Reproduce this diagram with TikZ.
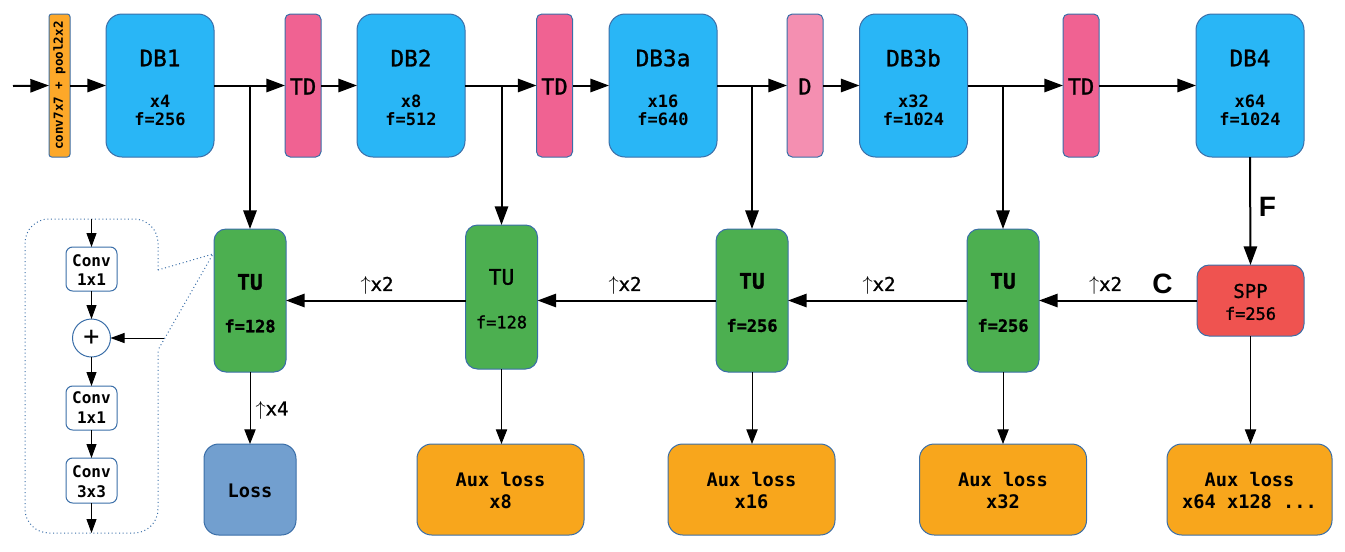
\documentclass[tikz,border=0pt]{standalone}
\usepackage{fontspec}
\setmainfont{DejaVu Sans Mono}
\newfontfamily\arialfont{Liberation Sans}
\newfontfamily\medfont{DejaVu Sans Mono}[FakeBold=1.2]
\usetikzlibrary{arrows.meta}
\definecolor{bordc}{HTML}{3A6EA8}
\definecolor{dbc}{HTML}{29B6F6}
\definecolor{tdc}{HTML}{F06292}
\definecolor{dc}{HTML}{F48FB1}
\definecolor{tuc}{HTML}{4CAF50}
\definecolor{sppc}{HTML}{EF5350}
\definecolor{lossc}{HTML}{729FCF}
\definecolor{auxc}{HTML}{F8A61C}
\definecolor{convc}{HTML}{FDA829}
\newcommand\fDBT{\fontsize{17}{20}\selectfont\medfont}
\newcommand\fDBS{\fontsize{12.75}{15}\selectfont\bfseries}
\newcommand\fTD{\fontsize{16.5}{19}\selectfont\medfont}
\newcommand\fTU{\fontsize{16}{19}\selectfont\medfont}
\newcommand\fTUS{\fontsize{12.75}{15}\selectfont\medfont}
\newcommand\fSPP{\fontsize{14.25}{17}\selectfont\medfont}
\newcommand\fAUX{\fontsize{14}{17}\selectfont\bfseries}
\newcommand\fCONV{\fontsize{9.4}{11}\selectfont\bfseries}
\newcommand\fIN{\fontsize{12}{14}\selectfont\bfseries}
\newcommand\fUP{\fontsize{14.25}{17}\selectfont\medfont}
\newcommand\fBIG{\fontsize{21}{24}\selectfont\arialfont\bfseries}
\newcommand\upar{\raisebox{0.02em}{\resizebox{!}{0.74em}{$\uparrow$}}}
\begin{document}
\begin{tikzpicture}[x=0.75pt,y=-0.75pt,
  base/.style={draw=bordc,line width=0.75pt,inner sep=0pt,outer sep=0pt},
  convbox/.style={base,fill=convc,minimum width=15.75pt,minimum height=107.25pt,rounded corners=2pt},
  dbbox/.style={base,fill=dbc,minimum width=81pt,minimum height=107.25pt,rounded corners=12pt},
  tdbox/.style={base,fill=tdc,minimum width=27pt,minimum height=107.25pt,rounded corners=4pt},
  dbox/.style={tdbox,fill=dc},
  tubox/.style={base,fill=tuc,minimum width=54pt,minimum height=107.25pt,rounded corners=9pt},
  sppbox/.style={base,fill=sppc,minimum width=80.25pt,minimum height=53.25pt,rounded corners=9pt},
  lossbox/.style={base,fill=lossc,minimum width=69pt,minimum height=68.25pt,rounded corners=11pt},
  auxbox/.style={base,fill=auxc,minimum width=125.25pt,minimum height=68.25pt,rounded corners=11pt},
  inbox/.style={base,fill=white,minimum width=38.25pt,minimum height=33pt,rounded corners=5pt},
  plusnode/.style={base,fill=white,circle,minimum size=28.5pt},
  txt/.style={inner sep=0pt,outer sep=0pt},
  arr/.style={line width=1.5pt,-{Triangle[length=14pt,width=10pt]}},
  tarr/.style={line width=0.75pt,-{Triangle[length=11pt,width=8.5pt]}},
  iarr/.style={line width=0.75pt,-{Triangle[length=10.5pt,width=7.5pt]}},
  inset/.style={draw=bordc,line width=0.75pt,dotted}
]
\useasboundingbox (0,0) rectangle (1345,551);

% top row
\node[convbox] (conv) at (59.5,85.5) {};
\node[txt,rotate=90,font=\fCONV] (convt) at (59.5,85.5) {conv7x7 + pool2x2};

\node[dbbox] (db1) at (160,85.5) {};
\node[txt,font=\fDBT] (db1n) at (160,58) {DB1};
\node[txt,font=\fDBS] (db1x) at (160,101) {x4};
\node[txt,font=\fDBS] (db1f) at (160,119.5) {f=256};

\node[tdbox] (td1) at (303,85.5) {};
\node[txt,font=\fTD] (td1t) at (303,86.5) {TD};

\node[dbbox] (db2) at (411,85.5) {};
\node[txt,font=\fDBT] (db2n) at (411,58) {DB2};
\node[txt,font=\fDBS] (db2x) at (411,101) {x8};
\node[txt,font=\fDBS] (db2f) at (411,119.5) {f=512};

\node[tdbox] (td2) at (554.5,85.5) {};
\node[txt,font=\fTD] (td2t) at (554.5,86.5) {TD};

\node[dbbox] (db3a) at (663,85.5) {};
\node[txt,font=\fDBT] (db3an) at (663,58) {DB3a};
\node[txt,font=\fDBS] (db3ax) at (663,101) {x16};
\node[txt,font=\fDBS] (db3af) at (663,119.5) {f=640};

\node[dbox] (d1) at (805,85.5) {};
\node[txt,font=\fTD] (d1t) at (805,86.5) {D};

\node[dbbox] (db3b) at (913.5,85.5) {};
\node[txt,font=\fDBT] (db3bn) at (913.5,58) {DB3b};
\node[txt,font=\fDBS] (db3bx) at (913.5,101) {x32};
\node[txt,font=\fDBS] (db3bf) at (913.5,119.5) {f=1024};

\node[tdbox] (td3) at (1081,85.5) {};
\node[txt,font=\fTD] (td3t) at (1081,86.5) {TD};

\node[dbbox] (db4) at (1250,85.5) {};
\node[txt,font=\fDBT] (db4n) at (1250,58) {DB4};
\node[txt,font=\fDBS] (db4x) at (1250,101) {x64};
\node[txt,font=\fDBS] (db4f) at (1250,119.5) {f=1024};

% middle row
\node[tubox] (tu1) at (250,300.5) {};
\node[txt,font=\fTU\bfseries] (tu1t) at (250,282) {TU};
\node[txt,font=\fTUS\bfseries] (tu1f) at (250,326) {f=128};

\node[tubox,minimum height=108pt] (tu2) at (501.5,297) {};
\node[txt,font=\fTU] (tu2t) at (501.5,277) {TU};
\node[txt,font=\fTUS] (tu2f) at (501.5,322) {f=128};

\node[tubox] (tu3) at (752,300.5) {};
\node[txt,font=\fTU\bfseries] (tu3t) at (752,281) {TU};
\node[txt,font=\fTUS\bfseries] (tu3f) at (752,325.5) {f=256};

\node[tubox] (tu4) at (1003,300.5) {};
\node[txt,font=\fTU\bfseries] (tu4t) at (1003,281) {TU};
\node[txt,font=\fTUS\bfseries] (tu4f) at (1003,325.5) {f=256};

\node[sppbox] (spp) at (1250.5,300.5) {};
\node[txt,font=\fSPP] (sppt) at (1250.5,291) {SPP};
\node[txt,font=\fTUS] (sppf) at (1250.5,313.5) {f=256};

% bottom row
\node[lossbox] (loss) at (250,489.5) {};
\node[txt,font=\fAUX] (losst) at (250,491) {Loss};

\node[auxbox] (aux8) at (500.5,489.5) {};
\node[txt,font=\fAUX] (aux8a) at (500.5,480) {Aux loss};
\node[txt,font=\fAUX] (aux8b) at (500.5,502) {x8};

\node[auxbox] (aux16) at (751.5,489.5) {};
\node[txt,font=\fAUX] (aux16a) at (751.5,480) {Aux loss};
\node[txt,font=\fAUX] (aux16b) at (751.5,502) {x16};

\node[auxbox] (aux32) at (1003,489.5) {};
\node[txt,font=\fAUX] (aux32a) at (1003,480) {Aux loss};
\node[txt,font=\fAUX] (aux32b) at (1003,502) {x32};

\node[auxbox,minimum width=123.75pt] (aux64) at (1249.5,489.5) {};
\node[txt,font=\fAUX] (aux64a) at (1249.5,480) {Aux loss};
\node[txt,font=\fAUX] (aux64b) at (1249.5,502) {x64 x128 ...};

% top connectors
\coordinate (in) at (13,86);
\draw[arr] (in) -- (conv.west);
\draw[arr] (conv.east) -- (db1.west);
\draw[arr] (db1.east) -- (td1.west);
\draw[arr] (td1.east) -- (db2.west);
\draw[arr] (db2.east) -- (td2.west);
\draw[arr] (td2.east) -- (db3a.west);
\draw[arr] (db3a.east) -- (d1.west);
\draw[arr] (d1.east) -- (db3b.west);
\draw[arr] (db3b.east) -- (td3.west);
\draw[arr] (td3.east) -- (db4.west);

% branches
\draw[arr] (db1.east -| tu1.north) -- (tu1.north);
\draw[arr] (db2.east -| tu2.north) -- (tu2.north);
\draw[arr] (db3a.east -| tu3.north) -- (tu3.north);
\draw[arr] (db3b.east -| tu4.north) -- (tu4.north);
\draw[arr] (db4.south) -- (spp.north);
\node[txt,font=\fBIG] (flab) at (1267.5,207) {F};

% upsampling path
\draw[arr] (spp.west) -- (spp.west -| tu4.east);
\draw[arr] (tu4.west) -- (tu4.west -| tu3.east);
\draw[arr] (tu3.west) -- (tu3.west -| tu2.east);
\draw[arr] (tu3.west -| tu2.west) -- (tu3.west -| tu1.east);
\node[txt,font=\fUP] (up4) at (1105.5,285.5) {\upar x2};
\node[txt,font=\fBIG] (clab) at (1162.5,284) {C};
\node[txt,font=\fUP] (up3) at (879,285.5) {\upar x2};
\node[txt,font=\fUP] (up2) at (625,285.5) {\upar x2};
\node[txt,font=\fUP] (up1) at (377,285.5) {\upar x2};

% outputs
\draw[tarr] (tu1.south) -- (loss.north);
\node[txt,font=\fUP] (up0) at (272,410) {\upar x4};
\draw[tarr] (tu2.south) -- (tu2.south |- aux8.north);
\draw[tarr] (tu3.south) -- (tu3.south |- aux16.north);
\draw[tarr] (tu4.south) -- (tu4.south |- aux32.north);
\draw[tarr] (spp.south) -- (spp.south |- aux64.north);

% inset
\coordinate (cb1) at (158,270);
\coordinate (cb2) at (158,350);
\coordinate (ctip) at (213,254);
\draw[inset] (cb1) [rounded corners=18pt] -- (158,219) -- (25,219) -- (25,533) -- (158,533) -- (cb2);
\draw[inset] (cb1) -- (ctip) -- (cb2);

\node[inbox] (ic1) at (91.5,269) {};
\node[txt,font=\fIN] (ic1a) at (91.5,260.5) {Conv};
\node[txt,font=\fIN] (ic1b) at (91.5,280) {1x1};
\node[plusnode] (plus) at (91.5,338) {};
\node[txt,font=\fontsize{20}{22}\selectfont] (plust) at (91.5,338) {+};
\node[inbox] (ic2) at (91.5,408) {};
\node[txt,font=\fIN] (ic2a) at (91.5,398) {Conv};
\node[txt,font=\fIN] (ic2b) at (91.5,418) {1x1};
\node[inbox,minimum height=33.75pt] (ic3) at (91.5,480.5) {};
\node[txt,font=\fIN] (ic3a) at (91.5,472) {Conv};
\node[txt,font=\fIN] (ic3b) at (91.5,492) {3x3};

\coordinate (iin) at (91.5,219);
\coordinate (iside) at (164,338);
\coordinate (iout) at (91.5,533);
\draw[iarr] (iin) -- (ic1.north);
\draw[iarr] (ic1.south) -- (plus.north);
\draw[iarr] (iside) -- (plus.east);
\draw[iarr] (plus.south) -- (ic2.north);
\draw[iarr] (ic2.south) -- (ic3.north);
\draw[iarr] (ic3.south) -- (iout);
\end{tikzpicture}
\end{document}
